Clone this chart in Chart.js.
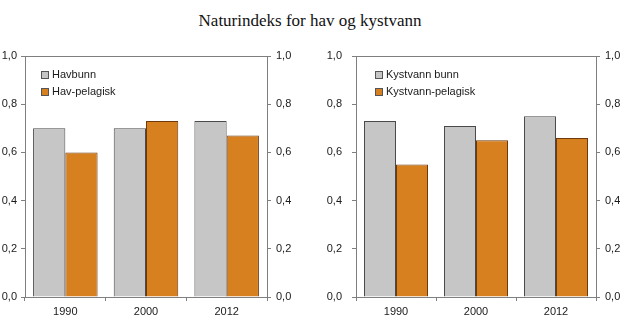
<!DOCTYPE html>
<html>
<head>
<meta charset="utf-8">
<script src="https://cdn.jsdelivr.net/npm/chart.js@4/dist/chart.umd.min.js"></script>
<style>
    html, body { margin: 0; padding: 0; background: #ffffff; }
    #wrap { position: relative; width: 620px; height: 333px; overflow: hidden; }
    #title {
        position: absolute; left: 0; top: 11px; width: 620px; text-align: center;
        font-family: 'Liberation Serif', 'Times New Roman', serif; font-size: 17px; color: #111;
    }
    .panel { position: absolute; top: 0; width: 310px; height: 333px; }
</style>
</head>
<body>
<div id="wrap">
    <div id="title">Naturindeks for hav og kystvann</div>
    <div class="panel" style="left:0"><canvas id="hav" width="310" height="333"></canvas></div>
    <div class="panel" style="left:310px"><canvas id="kyst" width="310" height="333"></canvas></div>
</div>
<script>
    var years = ['1990', '2000', '2012'];
    var yTicks = [0, 0.2, 0.4, 0.6, 0.8, 1.0];

    var havLabels = ['Havbunn', 'Hav-pelagisk'];
    var havBunn = [0.70, 0.70, 0.73];
    var havPelagisk = [0.60, 0.73, 0.67];

    var kystLabels = ['Kystvann bunn', 'Kystvann-pelagisk'];
    var kystBunn = [0.73, 0.71, 0.75];
    var kystPelagisk = [0.55, 0.65, 0.66];

    var FONT = 'Liberation Sans, Arial, sans-serif';
    var AXIS = '#7f7f7f';
    var GREY = '#c6c6c6';
    var ORANGE = '#d6801f';

    function fmt(v) {
        return v.toFixed(1).replace('.', ',');
    }

    // legend squares drawn inside the plot, top left
    var innerLegend = {
        id: 'innerLegend',
        afterDraw: function (chart, args, opts) {
            var ctx = chart.ctx;
            var area = chart.chartArea;
            ctx.save();
            ctx.font = '11px ' + FONT;
            ctx.textBaseline = 'middle';
            chart.data.datasets.forEach(function (ds, i) {
                var x = area.left + opts.dx;
                var y = area.top + opts.dy + i * opts.gap;
                ctx.fillStyle = ds.backgroundColor;
                ctx.fillRect(x, y - 3.5, 7, 7);
                ctx.strokeStyle = '#555555';
                ctx.lineWidth = 1;
                ctx.strokeRect(x + 0.5, y - 3.5, 7, 7);
                ctx.fillStyle = '#1a1a1a';
                ctx.fillText(ds.label, x + 11, y);
            });
            ctx.restore();
        }
    };

    // closing line along the top of the plot
    var topBorder = {
        id: 'topBorder',
        afterDraw: function (chart) {
            var ctx = chart.ctx;
            var a = chart.chartArea;
            ctx.save();
            ctx.strokeStyle = AXIS;
            ctx.lineWidth = 1;
            ctx.beginPath();
            ctx.moveTo(a.left, Math.round(a.top) + 0.5);
            ctx.lineTo(a.right, Math.round(a.top) + 0.5);
            ctx.stroke();
            ctx.restore();
        }
    };

    function valueAxis(position, width, pad) {
        return {
            position: position,
            min: 0,
            max: 1,
            afterBuildTicks: function (scale) {
                scale.ticks = yTicks.map(function (v) { return { value: v }; });
            },
            afterFit: function (scale) {
                scale.width = width;
            },
            grid: { drawOnChartArea: false, drawTicks: true, tickLength: 4, color: AXIS },
            border: { display: true, color: AXIS },
            ticks: {
                color: '#1a1a1a',
                padding: pad,
                font: { family: FONT, size: 11 },
                callback: function (value) { return fmt(value); }
            }
        };
    }

    function makeChart(id, labels, bunn, pelagisk, dims) {
        var ctx = document.getElementById(id).getContext('2d');
        return new Chart(ctx, {
            type: 'bar',
            data: {
                labels: years,
                datasets: [
                    {
                        label: labels[0],
                        data: bunn,
                        backgroundColor: GREY,
                        borderColor: '#4a4a4a',
                        borderWidth: 1,
                        borderSkipped: 'bottom',
                        categoryPercentage: 0.8,
                        barPercentage: 1.0
                    },
                    {
                        label: labels[1],
                        data: pelagisk,
                        backgroundColor: ORANGE,
                        borderColor: '#6e3a0c',
                        borderWidth: 1,
                        borderSkipped: 'bottom',
                        categoryPercentage: 0.8,
                        barPercentage: 1.0
                    }
                ]
            },
            options: {
                responsive: false,
                devicePixelRatio: 1,
                animation: false,
                layout: { padding: { top: 56, left: 0, right: 0, bottom: 0 } },
                plugins: {
                    legend: { display: false },
                    tooltip: { enabled: false },
                    innerLegend: { dx: dims.legendX, dy: 19, gap: 17 }
                },
                scales: {
                    x: {
                        grid: { offset: true, drawOnChartArea: false, drawTicks: true, tickLength: 4, color: AXIS },
                        border: { display: true, color: AXIS },
                        afterFit: function (scale) { scale.height = 36; },
                        ticks: { color: '#1a1a1a', padding: 4, font: { family: FONT, size: 11 } }
                    },
                    y: valueAxis('left', dims.left, dims.leftPad),
                    y2: valueAxis('right', dims.right, 5)
                }
            },
            plugins: [innerLegend, topBorder]
        });
    }

    makeChart('hav', havLabels, havBunn, havPelagisk, { left: 25, leftPad: 4, right: 43, legendX: 16 });
    makeChart('kyst', kystLabels, kystBunn, kystPelagisk, { left: 46, leftPad: 10, right: 24, legendX: 19 });
</script>
</body>
</html>
